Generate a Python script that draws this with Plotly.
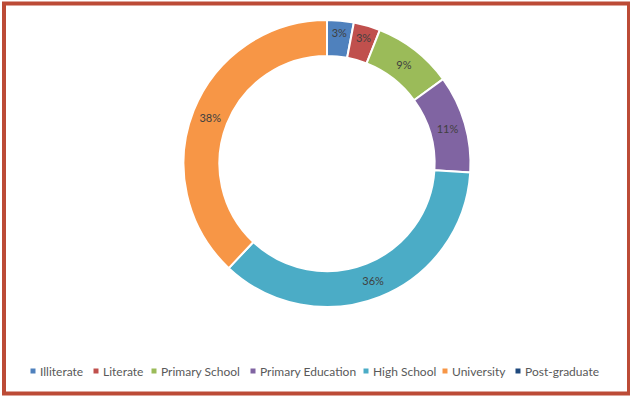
import plotly.graph_objects as go

# Education level distribution
categories = ["Illiterate", "Literate", "Primary School", "Primary Education",
              "High School", "University", "Post-graduate"]
shares = [3, 3, 9, 11, 36, 38, 0]
colors = ["#4F81BD", "#C0504D", "#9BBB59", "#8064A2", "#4BACC6", "#F79646", "#1F497D"]

W, H = 630, 397
cx, cy, r = 327, 163.5, 143.5  # donut centre / radius in px (top-left origin)

labels_txt = [f"{v}%" if v > 0 else "" for v in shares]

fig = go.Figure(go.Pie(
    labels=categories,
    values=shares,
    text=labels_txt,
    textinfo="text",
    textposition="inside",
    insidetextorientation="horizontal",
    textfont=dict(family="Lato", size=11, color="#404040"),
    marker=dict(colors=colors, line=dict(color="white", width=2)),
    hole=0.75,
    sort=False,
    direction="clockwise",
    rotation=0,
    showlegend=False,
    hoverinfo="label+percent",
    domain=dict(x=[(cx - r) / W, (cx + r) / W],
                y=[1 - (cy + r) / H, 1 - (cy - r) / H]),
))

# Legend drawn as swatches + labels along the bottom
legend_x = [33, 96, 154, 253, 366, 445, 518]  # swatch centres, px
legend_y = 371
shapes = []
annotations = []
for name, col, lx in zip(categories, colors, legend_x):
    shapes.append(dict(type="rect", xref="paper", yref="paper",
                       x0=(lx - 2.5) / W, x1=(lx + 2.5) / W,
                       y0=1 - (legend_y + 2.5) / H, y1=1 - (legend_y - 2.5) / H,
                       fillcolor=col, line=dict(width=0)))
    annotations.append(dict(text=name, xref="paper", yref="paper",
                            x=(lx + 5) / W, y=1 - legend_y / H,
                            xanchor="left", yanchor="middle", showarrow=False,
                            font=dict(family="Lato", size=12, color="#595959")))

# Outer frame
shapes.append(dict(type="rect", xref="paper", yref="paper",
                   x0=4 / W, x1=629 / W, y0=3.5 / H, y1=1 - 3.5 / H,
                   line=dict(color="#BC4B36", width=4), fillcolor="rgba(0,0,0,0)"))

fig.update_layout(
    width=W, height=H,
    margin=dict(l=0, r=0, t=0, b=0),
    paper_bgcolor="white",
    plot_bgcolor="white",
    shapes=shapes,
    annotations=annotations,
)

fig.write_html("out.html")
